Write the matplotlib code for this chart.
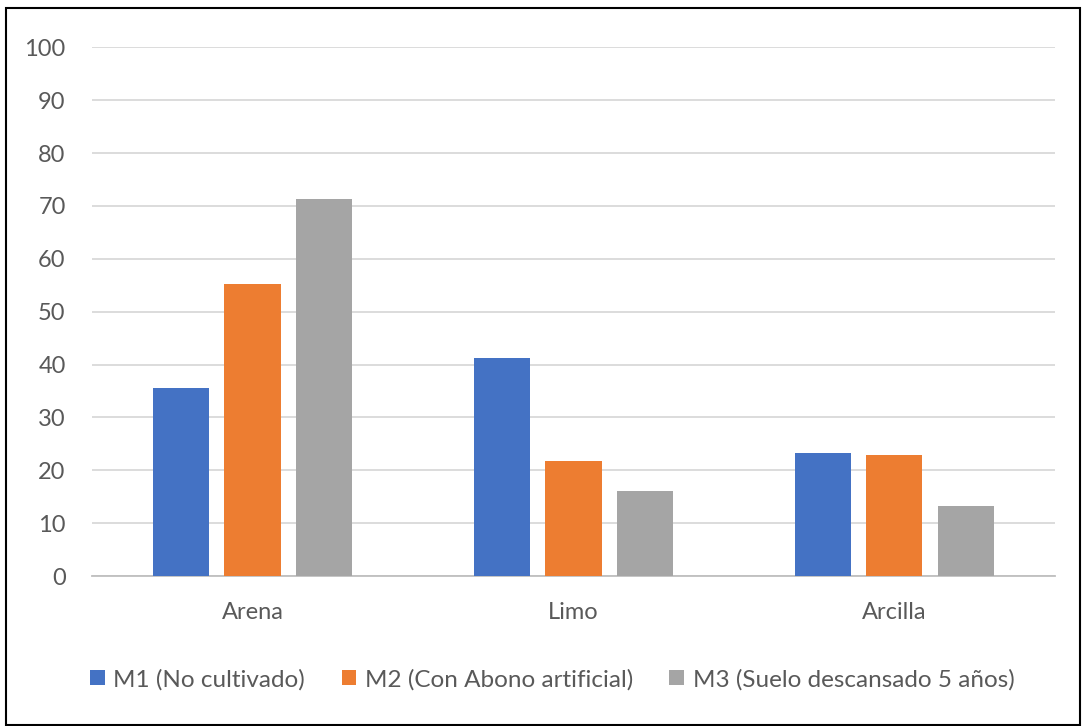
import numpy as np
import matplotlib
matplotlib.use('Agg')
import matplotlib.pyplot as plt
from matplotlib.patches import Rectangle

plt.rcParams['font.family'] = ['Lato', 'DejaVu Sans']

# Soil texture fractions (%) per sample
categories = ['Arena', 'Limo', 'Arcilla']
m1 = [35.5, 41.2, 23.3]
m2 = [55.3, 21.8, 22.8]
m3 = [71.3, 16.1, 13.3]
series_names = ['M1 (No cultivado)', 'M2 (Con Abono artificial)',
                'M3 (Suelo descansado 5 años)']
colors = ['#4472C4', '#ED7D31', '#A5A5A5']
yticks = list(range(0, 101, 10))

fig = plt.figure(figsize=(10.83, 7.26), dpi=100)
ax = fig.add_axes([0.085, 0.2066, 0.889, 0.7283])

x = np.arange(len(categories))
width = 0.175
step = 0.222
for i, (vals, name, c) in enumerate(zip([m1, m2, m3], series_names, colors)):
    ax.bar(x + (i - 1) * step, vals, width, color=c, label=name, zorder=3)

ax.set_xlim(-0.5, 2.5)
ax.set_ylim(0, 100)
ax.set_yticks(yticks)
ax.set_xticks(x)
ax.set_xticklabels(categories)
ax.grid(axis='y', color='#d9d9d9', linewidth=1.3, zorder=0)
for s in ['top', 'right', 'left']:
    ax.spines[s].set_visible(False)
ax.spines['bottom'].set_color('#bfbfbf')
ax.spines['bottom'].set_linewidth(1.3)
ax.tick_params(axis='both', length=0, labelsize=17, labelcolor='#595959')
ax.tick_params(axis='y', pad=19)
ax.tick_params(axis='x', pad=19)

fig.legend(loc='center', bbox_to_anchor=(0.51, 0.064), ncol=3, frameon=False,
           fontsize=17.5, labelcolor='#595959', handlelength=0.6, handleheight=0.6,
           handletextpad=0.35, columnspacing=1.5)

# outer frame
fig.patches.append(Rectangle((0.006, 0.002), 0.991, 0.987, transform=fig.transFigure,
                             fill=False, edgecolor='black', linewidth=1.5))

fig.savefig('out.png', dpi=100)
